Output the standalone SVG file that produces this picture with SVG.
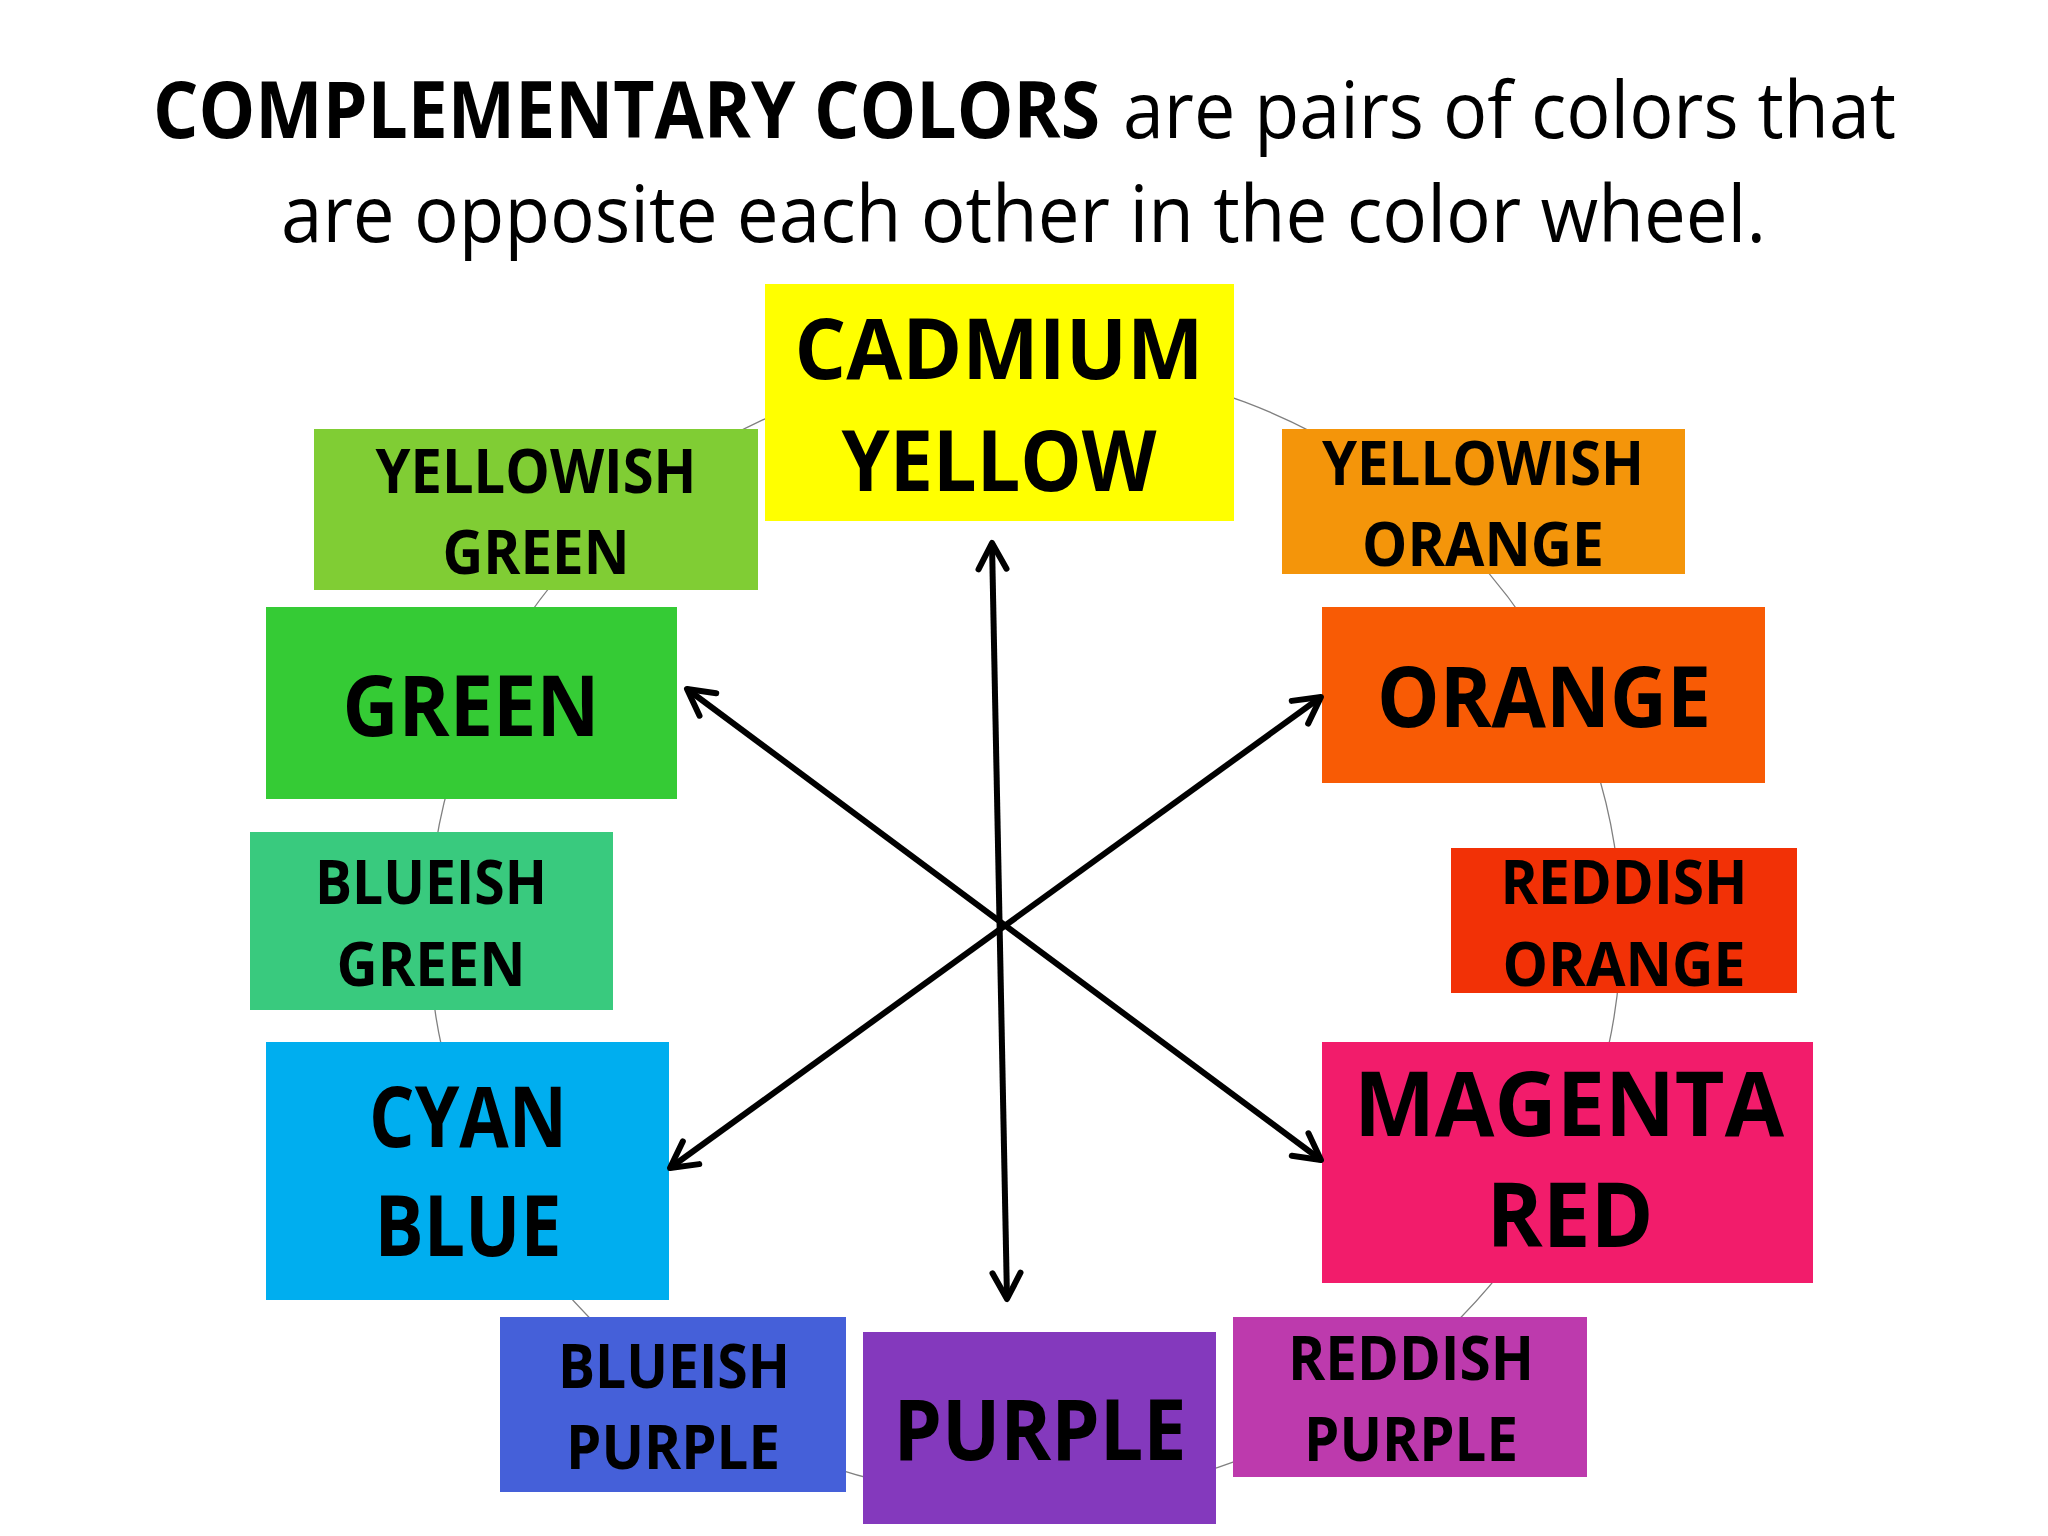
<svg xmlns="http://www.w3.org/2000/svg" width="2048" height="1536" viewBox="0 0 2048 1536">
<style>
.title{font-family:"Open Sans","Liberation Sans",sans-serif;font-size:78px;fill:#000}
.b{font-weight:bold}
.lbl{font-family:"Open Sans","Liberation Sans",sans-serif;font-weight:bold;fill:#000;text-anchor:middle}
.s{font-size:61px}
.l{font-size:84px}
.xl{font-size:89px}
.wheel{fill:none;stroke:#808080;stroke-width:1.3}
.arrow{fill:none;stroke:#000;stroke-width:6;marker-start:url(#head);marker-end:url(#head)}
</style>
<defs>
<marker id="head" markerUnits="userSpaceOnUse" markerWidth="40" markerHeight="40" viewBox="-35 -20 40 40" refX="0" refY="0" orient="auto-start-reverse" overflow="visible">
<path d="M-26,-14 L0,0 L-26,14" fill="none" stroke="#000" stroke-width="6" stroke-linecap="round" stroke-linejoin="round"/>
</marker>
</defs>
<rect width="2048" height="1536" fill="#fff"/>
<g id="title">
<text class="title" y="138"><tspan class="b" x="153" textLength="947" lengthAdjust="spacingAndGlyphs">COMPLEMENTARY COLORS</tspan><tspan x="1123" textLength="773" lengthAdjust="spacingAndGlyphs">are pairs of colors that</tspan></text>
<text class="title" x="281" y="242" textLength="1485" lengthAdjust="spacingAndGlyphs">are opposite each other in the color wheel.</text>
</g>
<g id="wheel">
<ellipse class="wheel" cx="1025" cy="930" rx="596" ry="568"/>
</g>
<g id="cadmium-yellow">
<rect x="765" y="284" width="469" height="237" fill="#FFFF00"/>
<text class="lbl l" x="999" y="379" textLength="409" lengthAdjust="spacingAndGlyphs">CADMIUM</text>
<text class="lbl l" x="999" y="491" textLength="315" lengthAdjust="spacingAndGlyphs">YELLOW</text>
</g>
<g id="yellowish-green">
<rect x="314" y="429" width="444" height="161" fill="#80CD34"/>
<text class="lbl s" x="536" y="493" textLength="321" lengthAdjust="spacingAndGlyphs">YELLOWISH</text>
<text class="lbl s" x="536" y="574" textLength="187" lengthAdjust="spacingAndGlyphs">GREEN</text>
</g>
<g id="yellowish-orange">
<rect x="1282" y="429" width="403" height="145" fill="#F4950A"/>
<text class="lbl s" x="1483" y="485" textLength="322" lengthAdjust="spacingAndGlyphs">YELLOWISH</text>
<text class="lbl s" x="1483" y="566" textLength="242" lengthAdjust="spacingAndGlyphs">ORANGE</text>
</g>
<g id="green">
<rect x="266" y="607" width="411" height="192" fill="#35CB35"/>
<text class="lbl l" x="471" y="736" textLength="257" lengthAdjust="spacingAndGlyphs">GREEN</text>
</g>
<g id="orange">
<rect x="1322" y="607" width="443" height="176" fill="#F85B05"/>
<text class="lbl l" x="1544" y="727" textLength="334" lengthAdjust="spacingAndGlyphs">ORANGE</text>
</g>
<g id="blueish-green">
<rect x="250" y="832" width="363" height="178" fill="#39CA7E"/>
<text class="lbl s" x="431" y="904" textLength="232" lengthAdjust="spacingAndGlyphs">BLUEISH</text>
<text class="lbl s" x="431" y="986" textLength="189" lengthAdjust="spacingAndGlyphs">GREEN</text>
</g>
<g id="reddish-orange">
<rect x="1451" y="848" width="346" height="145" fill="#F23106"/>
<text class="lbl s" x="1624" y="904" textLength="247" lengthAdjust="spacingAndGlyphs">REDDISH</text>
<text class="lbl s" x="1624" y="986" textLength="243" lengthAdjust="spacingAndGlyphs">ORANGE</text>
</g>
<g id="cyan-blue">
<rect x="266" y="1042" width="403" height="258" fill="#00AEEF"/>
<text class="lbl l" x="468" y="1147" textLength="198" lengthAdjust="spacingAndGlyphs">CYAN</text>
<text class="lbl l" x="468" y="1256" textLength="187" lengthAdjust="spacingAndGlyphs">BLUE</text>
</g>
<g id="magenta-red">
<rect x="1322" y="1042" width="491" height="241" fill="#F21C6B"/>
<text class="lbl xl" x="1569" y="1136" textLength="430" lengthAdjust="spacingAndGlyphs">MAGENTA</text>
<text class="lbl xl" x="1570" y="1247" textLength="167" lengthAdjust="spacingAndGlyphs">RED</text>
</g>
<g id="blueish-purple">
<rect x="500" y="1317" width="346" height="175" fill="#4560D9"/>
<text class="lbl s" x="674" y="1388" textLength="232" lengthAdjust="spacingAndGlyphs">BLUEISH</text>
<text class="lbl s" x="673" y="1469" textLength="214" lengthAdjust="spacingAndGlyphs">PURPLE</text>
</g>
<g id="purple">
<rect x="863" y="1332" width="353" height="192" fill="#8439BD"/>
<text class="lbl l" x="1040" y="1460" textLength="293" lengthAdjust="spacingAndGlyphs">PURPLE</text>
</g>
<g id="reddish-purple">
<rect x="1233" y="1317" width="354" height="160" fill="#BD3AAD"/>
<text class="lbl s" x="1411" y="1380" textLength="246" lengthAdjust="spacingAndGlyphs">REDDISH</text>
<text class="lbl s" x="1411" y="1461" textLength="214" lengthAdjust="spacingAndGlyphs">PURPLE</text>
</g>
<g id="connectors">
<line class="arrow" x1="992" y1="543" x2="1007" y2="1299"/>
<line class="arrow" x1="687" y1="689" x2="1321" y2="1160"/>
<line class="arrow" x1="670" y1="1168" x2="1321" y2="697"/>
</g>
</svg>
